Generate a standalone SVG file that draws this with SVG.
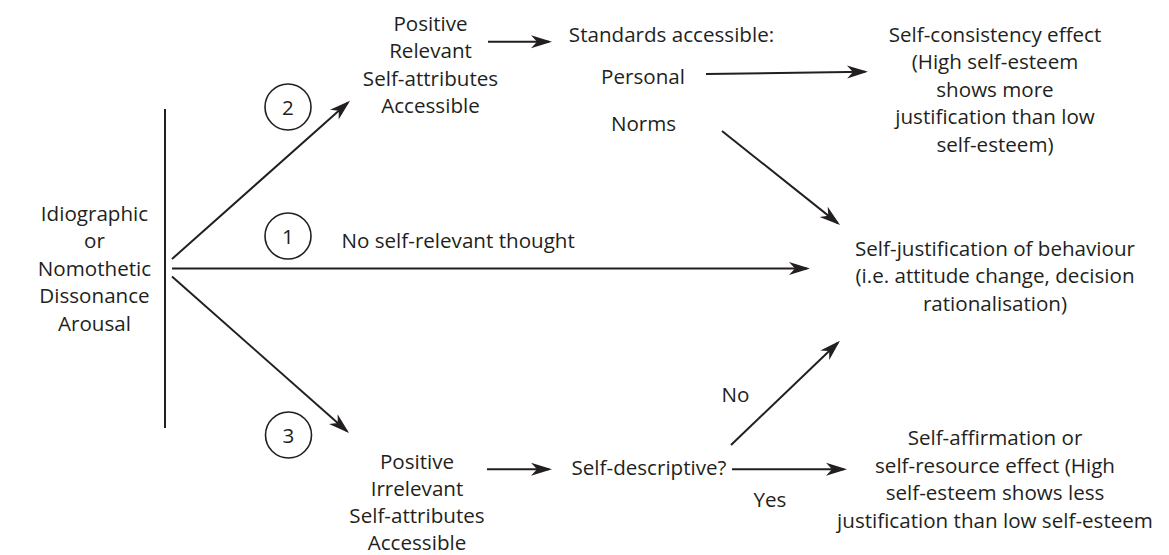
<svg xmlns="http://www.w3.org/2000/svg" width="1169" height="555" viewBox="0 0 1169 555">
  <defs>
    <style>
      text { font-family: "Open Sans", "Noto Sans", "Liberation Sans", sans-serif; font-size: 20.6px; fill: #231f20; }
      .c { text-anchor: middle; }
      .ln { stroke: #231f20; stroke-width: 2; fill: none; }
      .arr { marker-end: url(#ah); }
      .ring { stroke: #231f20; stroke-width: 1.6; fill: none; }
    </style>
    <marker id="ah" viewBox="-22 -7 23 14" refX="-3" refY="0" markerWidth="23" markerHeight="14" markerUnits="userSpaceOnUse" orient="auto">
      <path d="M0,0 L-21,-6.5 L-15,0 L-21,6.5 Z" fill="#231f20"/>
    </marker>
  </defs>
  <rect width="1169" height="555" fill="#ffffff"/>

  <!-- source: dissonance arousal -->
  <g id="arousal">
    <text class="c" x="94.5" y="220.5">Idiographic</text>
    <text class="c" x="94.5" y="248">or</text>
    <text class="c" x="94.5" y="275.5">Nomothetic</text>
    <text class="c" x="94.5" y="303">Dissonance</text>
    <text class="c" x="94.5" y="330.5">Arousal</text>
    <line class="ln" x1="165" y1="109" x2="165" y2="428"/>
  </g>

  <!-- route markers -->
  <g id="route-1">
    <circle class="ring" cx="288" cy="236" r="23"/>
    <text class="c" x="288" y="243.5">1</text>
  </g>
  <g id="route-2">
    <circle class="ring" cx="288" cy="107" r="23"/>
    <text class="c" x="288" y="114.5">2</text>
  </g>
  <g id="route-3">
    <circle class="ring" cx="288.5" cy="435" r="23"/>
    <text class="c" x="288.5" y="442.5">3</text>
  </g>

  <g id="positive-relevant">
    <text class="c" x="430.5" y="30.5">Positive</text>
    <text class="c" x="430.5" y="58">Relevant</text>
    <text class="c" x="430.5" y="85.5">Self-attributes</text>
    <text class="c" x="430.5" y="113">Accessible</text>
  </g>

  <g id="standards">
    <text class="c" x="671.5" y="42">Standards accessible:</text>
    <text class="c" x="643" y="83.5">Personal</text>
    <text class="c" x="643.5" y="131">Norms</text>
  </g>

  <g id="self-consistency">
    <text class="c" x="995" y="41.5">Self-consistency effect</text>
    <text class="c" x="995" y="69">(High self-esteem</text>
    <text class="c" x="995" y="96.5">shows more</text>
    <text class="c" x="995" y="124">justification than low</text>
    <text class="c" x="995" y="151.5">self-esteem)</text>
  </g>

  <g id="no-thought">
    <text x="341.5" y="248">No self-relevant thought</text>
  </g>

  <g id="self-justification">
    <text class="c" x="995" y="255.5">Self-justification of behaviour</text>
    <text class="c" x="995" y="283">(i.e. attitude change, decision</text>
    <text class="c" x="995" y="310.5">rationalisation)</text>
  </g>

  <g id="positive-irrelevant">
    <text class="c" x="417" y="468.5">Positive</text>
    <text class="c" x="417" y="495.5">Irrelevant</text>
    <text class="c" x="417" y="522.5">Self-attributes</text>
    <text class="c" x="417" y="549.5">Accessible</text>
  </g>

  <g id="self-descriptive">
    <text class="c" x="649" y="475">Self-descriptive?</text>
  </g>

  <g id="self-affirmation">
    <text class="c" x="995" y="445">Self-affirmation or</text>
    <text class="c" x="995" y="472.5">self-resource effect (High</text>
    <text class="c" x="995" y="500">self-esteem shows less</text>
    <text class="c" x="995" y="527.5">justification than low self-esteem</text>
  </g>

  <!-- connectors -->
  <g id="connectors">
    <line class="ln arr" x1="172" y1="268.5" x2="807" y2="268.5"/>
    <line class="ln arr" x1="172" y1="259" x2="347.8" y2="102.7"/>
    <line class="ln arr" x1="172" y1="276.5" x2="346.8" y2="431"/>
    <line class="ln arr" x1="488" y1="41.7" x2="549" y2="41.7"/>
    <line class="ln arr" x1="706" y1="74" x2="865" y2="71.75"/>
    <line class="ln arr" x1="722" y1="131" x2="837.7" y2="223.1"/>
    <line class="ln arr" x1="487" y1="469.3" x2="549" y2="469.3"/>
    <line class="ln arr" x1="731" y1="445" x2="837.8" y2="342.8"/>
    <line class="ln arr" x1="732" y1="469.3" x2="844" y2="469.3"/>
    <text x="735.5" y="401.5" class="c">No</text>
    <text x="770" y="506.5" class="c">Yes</text>
  </g>
</svg>
